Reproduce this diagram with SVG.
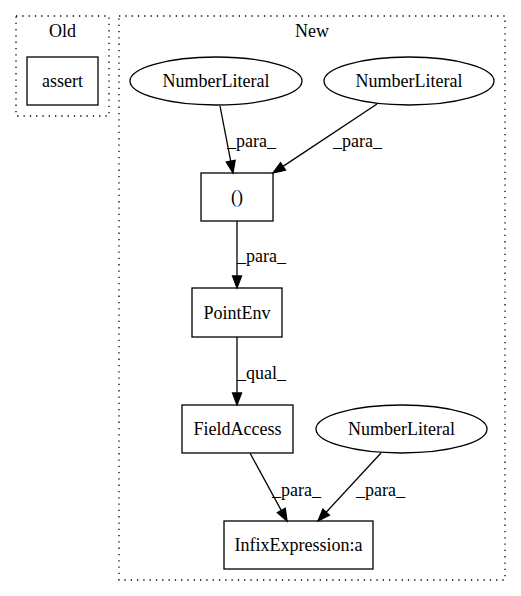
<svg xmlns="http://www.w3.org/2000/svg" width="521" height="596" viewBox="0 0 521 596">
<style>
text{font-family:"Liberation Serif","Times New Roman",serif;font-size:18px;fill:#000}
.c{text-anchor:middle}
.cl{fill:none;stroke:#000;stroke-width:1.3;stroke-dasharray:1.3,5}
.n{fill:none;stroke:#000;stroke-width:1.3}
.e{fill:none;stroke:#000;stroke-width:1.3}
</style>
<defs>
<marker id="ah" markerUnits="userSpaceOnUse" markerWidth="11" markerHeight="8" refX="0" refY="4.5" orient="auto" overflow="visible">
<path d="M0,0 L12,4.5 L0,9 Z" fill="#000" stroke="#000" stroke-width="1.3"/>
</marker>
</defs>
<rect width="521" height="596" fill="#fff"/>
<g id="cluster_old">
<rect class="cl" x="16" y="16" width="93" height="100"/>
<text class="c" x="62.5" y="37">Old</text>
</g>
<g id="cluster_new">
<rect class="cl" x="119" y="16" width="386" height="564"/>
<text class="c" x="312" y="37">New</text>
</g>
<g id="assert">
<rect class="n" x="27" y="57" width="71" height="48"/>
<text class="c" x="62.5" y="87">assert</text>
</g>
<g id="numlit1">
<ellipse class="n" cx="216" cy="81" rx="86" ry="24"/>
<text class="c" x="216" y="87">NumberLiteral</text>
</g>
<g id="numlit2">
<ellipse class="n" cx="409" cy="81" rx="85" ry="24"/>
<text class="c" x="409" y="87">NumberLiteral</text>
</g>
<g id="paren">
<rect class="n" x="201" y="173" width="72" height="48"/>
<text class="c" x="237" y="203">()</text>
</g>
<g id="pointenv">
<rect class="n" x="192" y="288" width="90" height="49"/>
<text class="c" x="237" y="318.5">PointEnv</text>
</g>
<g id="fieldaccess">
<rect class="n" x="182" y="405" width="111" height="48"/>
<text class="c" x="237.5" y="435">FieldAccess</text>
</g>
<g id="numlit3">
<ellipse class="n" cx="401.5" cy="429" rx="85.5" ry="24"/>
<text class="c" x="401.5" y="435">NumberLiteral</text>
</g>
<g id="infix">
<rect class="n" x="224" y="521" width="149" height="48"/>
<text class="c" x="298.5" y="551">InfixExpression:a</text>
</g>
<g id="edges">
<line class="e" x1="220" y1="106" x2="230.7" y2="161.2" marker-end="url(#ah)"/>
<text x="227" y="147">_para_</text>
<line class="e" x1="377" y1="104" x2="283" y2="166.4" marker-end="url(#ah)"/>
<text x="333" y="147">_para_</text>
<line class="e" x1="237" y1="221" x2="237" y2="276" marker-end="url(#ah)"/>
<text x="237" y="262">_para_</text>
<line class="e" x1="237" y1="337" x2="237" y2="393" marker-end="url(#ah)"/>
<text x="237" y="379">_qual_</text>
<line class="e" x1="250" y1="453" x2="281.3" y2="510.5" marker-end="url(#ah)"/>
<text x="272" y="496">_para_</text>
<line class="e" x1="381" y1="453" x2="326.2" y2="512.2" marker-end="url(#ah)"/>
<text x="356" y="496">_para_</text>
</g>
</svg>
